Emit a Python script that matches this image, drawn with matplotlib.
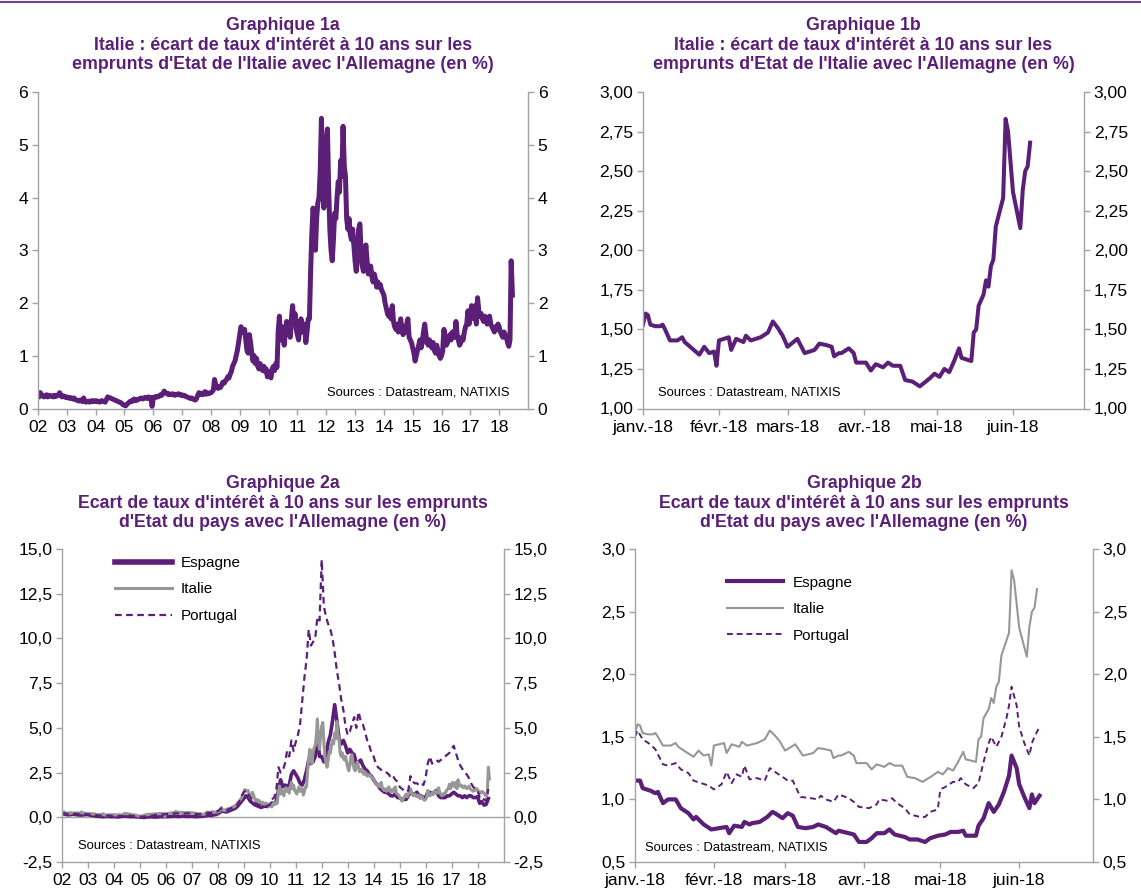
import numpy as np
import matplotlib
matplotlib.use("Agg")
import matplotlib.pyplot as plt
from matplotlib.lines import Line2D
from matplotlib.ticker import FuncFormatter

plt.rcParams["font.family"] = ["Liberation Sans", "DejaVu Sans"]

PURPLE = "#5B1F78"
GREY = "#979797"
AXIS = "#A3A3A3"

# --- long series 2002-2018 ---------------------------------------------------
# Italy - Germany 10y spread, two readings per month starting Jan 2002
italy_long = [
    0.28, 0.22, 0.30, 0.25, 0.24, 0.22, 0.23, 0.26, 0.22, 0.25, 0.24, 0.23,
    0.24, 0.22, 0.25, 0.23, 0.24, 0.26, 0.30, 0.25, 0.22, 0.24, 0.23, 0.21,  # 02
    0.22, 0.20, 0.21, 0.19, 0.20, 0.18, 0.20, 0.17, 0.16, 0.15, 0.14, 0.16,
    0.15, 0.13, 0.20, 0.14, 0.12, 0.13, 0.14, 0.12, 0.14, 0.15, 0.13, 0.14,  # 03
    0.15, 0.13, 0.14, 0.12, 0.13, 0.15, 0.14, 0.13, 0.12, 0.17, 0.22, 0.21,
    0.20, 0.19, 0.18, 0.17, 0.16, 0.15, 0.14, 0.13, 0.12, 0.11, 0.09, 0.07,  # 04
    0.06, 0.05, 0.08, 0.10, 0.12, 0.14, 0.13, 0.16, 0.18, 0.15, 0.17, 0.16,
    0.18, 0.19, 0.20, 0.18, 0.19, 0.21, 0.20, 0.19, 0.22, 0.20, 0.21, 0.04,  # 05
    0.20, 0.22, 0.21, 0.23, 0.22, 0.24, 0.26, 0.25, 0.28, 0.33, 0.30, 0.29,
    0.27, 0.28, 0.26, 0.27, 0.28, 0.26, 0.25, 0.27, 0.26, 0.28, 0.26, 0.25,  # 06
    0.26, 0.24, 0.25, 0.23, 0.22, 0.21, 0.20, 0.19, 0.20, 0.18, 0.17, 0.16,
    0.19, 0.25, 0.30, 0.27, 0.29, 0.26, 0.28, 0.32, 0.27, 0.30, 0.28, 0.29,  # 07
    0.30, 0.32, 0.35, 0.55, 0.45, 0.40, 0.38, 0.42, 0.40, 0.45, 0.50, 0.48,
    0.52, 0.55, 0.60, 0.58, 0.65, 0.70, 0.80, 0.85, 0.90, 1.00, 1.10, 1.25,  # 08
    1.40, 1.55, 1.50, 1.45, 1.50, 1.30, 1.10, 1.05, 1.40, 1.25, 1.05, 0.90,
    1.00, 0.85, 0.95, 0.80, 0.75, 0.85, 0.78, 0.72, 0.80, 0.70, 0.75, 0.60,  # 09
    0.70, 0.62, 0.58, 0.75, 0.80, 0.72, 0.85, 0.78, 1.45, 1.75, 1.30, 1.55,
    1.40, 1.20, 1.50, 1.65, 1.45, 1.55, 1.35, 1.70, 1.95, 1.60, 1.80, 1.50,  # 10
    1.40, 1.30, 1.55, 1.70, 1.45, 1.55, 1.60, 1.25, 1.45, 1.70, 1.70, 2.60,
    3.30, 3.80, 3.60, 3.00, 3.60, 3.90, 4.00, 4.50, 5.50, 4.20, 3.80, 4.60,  # 11
    5.10, 5.30, 4.20, 3.40, 3.00, 2.80, 3.20, 3.70, 3.60, 4.00, 4.30, 4.10,
    4.70, 4.40, 5.35, 4.60, 4.40, 3.60, 3.40, 3.60, 3.30, 3.20, 3.40, 3.10,  # 12
    2.80, 2.60, 2.90, 3.40, 3.50, 3.00, 2.70, 2.60, 2.90, 3.10, 2.80, 2.55,
    2.60, 2.70, 2.50, 2.40, 2.55, 2.45, 2.30, 2.40, 2.30, 2.35, 2.25, 2.20,  # 13
    2.15, 2.00, 1.90, 1.80, 1.75, 1.85, 1.70, 1.95, 1.65, 1.55, 1.50, 1.60,
    1.45, 1.55, 1.70, 1.50, 1.40, 1.55, 1.45, 1.60, 1.70, 1.35, 1.30, 1.25,  # 14
    1.15, 1.05, 0.90, 1.00, 1.10, 1.20, 1.30, 1.15, 1.25, 1.45, 1.60, 1.40,
    1.25, 1.20, 1.30, 1.20, 1.15, 1.25, 1.10, 1.05, 1.20, 1.10, 1.00, 0.95,  # 15
    1.00, 1.10, 1.50, 1.35, 1.20, 1.25, 1.35, 1.40, 1.30, 1.45, 1.40, 1.35,
    1.65, 1.40, 1.30, 1.20, 1.25, 1.35, 1.30, 1.45, 1.55, 1.60, 1.85, 1.60,  # 16
    1.75, 1.95, 1.80, 1.70, 1.95, 1.60, 2.10, 1.85, 1.75, 1.80, 1.70, 1.65,
    1.75, 1.70, 1.60, 1.65, 1.75, 1.60, 1.55, 1.50, 1.45, 1.55, 1.50, 1.60,  # 17
    1.55, 1.45, 1.40, 1.35, 1.45, 1.40, 1.35, 1.25, 1.18, 1.30, 2.80, 2.15,  # 18
]

# Spain and Portugal - Germany 10y spread, monthly from Jan 2002
spain_long = [
    0.20, 0.18, 0.15, 0.14, 0.15, 0.17, 0.16, 0.14, 0.13, 0.12, 0.14, 0.15,
    0.15, 0.12, 0.10, 0.08, 0.06, 0.05, 0.04, 0.03, 0.04, 0.05, 0.04, 0.03,
    0.04, 0.03, 0.02, 0.04, 0.05, 0.06, 0.05, 0.04, 0.03, 0.04, 0.03, 0.02,
    0.01, 0.00, -0.01, 0.01, 0.02, 0.03, 0.02, 0.01, 0.02, 0.03, 0.04, 0.03,
    0.04, 0.03, 0.05, 0.04, 0.06, 0.05, 0.04, 0.05, 0.06, 0.05, 0.04, 0.05,
    0.05, 0.04, 0.03, 0.04, 0.05, 0.06, 0.08, 0.10, 0.12, 0.10, 0.14, 0.15,
    0.20, 0.28, 0.35, 0.32, 0.30, 0.35, 0.40, 0.45, 0.50, 0.60, 0.75, 0.90,
    1.05, 1.20, 1.10, 0.90, 0.80, 0.70, 0.65, 0.60, 0.55, 0.60, 0.62, 0.60,
    0.70, 0.80, 0.75, 0.90, 1.50, 2.10, 1.70, 1.80, 1.75, 1.80, 2.40, 2.60,
    2.40, 2.20, 1.90, 1.80, 2.10, 2.60, 3.20, 3.00, 3.10, 3.40, 4.50, 3.40,
    3.40, 3.10, 3.30, 4.20, 4.60, 5.40, 6.30, 5.40, 4.40, 4.10, 4.30, 4.00,
    3.60, 3.80, 3.60, 3.50, 3.00, 3.10, 3.20, 2.90, 2.70, 2.60, 2.40, 2.30,
    2.10, 1.90, 1.80, 1.60, 1.50, 1.40, 1.40, 1.30, 1.20, 1.20, 1.30, 1.10,
    1.10, 1.00, 1.00, 1.00, 1.20, 1.40, 1.30, 1.30, 1.40, 1.20, 1.20, 1.10,
    1.10, 1.40, 1.40, 1.30, 1.40, 1.50, 1.20, 1.10, 1.10, 1.10, 1.20, 1.20,
    1.30, 1.40, 1.30, 1.20, 1.20, 1.10, 1.20, 1.10, 1.20, 1.20, 1.10, 1.10,
    1.15, 0.78, 0.87, 0.68, 0.72, 1.05,
]
portugal_long = [
    0.20, 0.22, 0.20, 0.18, 0.17, 0.18, 0.20, 0.19, 0.18, 0.17, 0.16, 0.17,
    0.16, 0.15, 0.14, 0.13, 0.12, 0.10, 0.09, 0.08, 0.09, 0.10, 0.09, 0.08,
    0.08, 0.07, 0.06, 0.07, 0.08, 0.09, 0.10, 0.09, 0.08, 0.07, 0.06, 0.05,
    0.04, 0.03, 0.04, 0.05, 0.07, 0.08, 0.10, 0.12, 0.14, 0.13, 0.15, 0.16,
    0.17, 0.18, 0.20, 0.19, 0.21, 0.22, 0.21, 0.23, 0.22, 0.21, 0.22, 0.21,
    0.20, 0.19, 0.18, 0.17, 0.18, 0.19, 0.20, 0.22, 0.25, 0.24, 0.28, 0.30,
    0.35, 0.45, 0.50, 0.45, 0.40, 0.45, 0.50, 0.55, 0.60, 0.70, 0.90, 1.20,
    1.40, 1.50, 1.30, 1.10, 0.90, 0.80, 0.75, 0.70, 0.65, 0.60, 0.60, 0.65,
    0.70, 1.00, 1.10, 1.50, 2.80, 2.50, 2.60, 3.00, 3.70, 3.40, 4.30, 3.70,
    4.20, 4.60, 5.20, 6.50, 7.80, 8.80, 10.50, 9.60, 9.80, 10.00, 11.20, 11.00,
    14.40, 11.80, 11.20, 10.80, 10.50, 10.00, 9.20, 8.20, 7.50, 6.60, 6.00, 5.10,
    4.60, 4.80, 5.20, 5.60, 5.00, 5.90, 5.40, 5.20, 4.80, 4.30, 4.00, 3.60,
    3.40, 3.00, 2.80, 2.70, 2.60, 2.50, 2.50, 2.40, 2.20, 2.30, 2.10, 2.00,
    1.70, 1.60, 1.50, 1.40, 1.50, 2.30, 2.00, 1.90, 1.90, 1.80, 1.90, 1.80,
    2.20, 3.00, 3.40, 3.00, 3.10, 3.20, 3.10, 3.20, 3.30, 3.40, 3.50, 3.60,
    3.80, 4.00, 3.60, 3.20, 2.90, 2.70, 2.50, 2.40, 2.20, 1.90, 1.70, 1.60,
    1.50, 1.12, 1.18, 0.98, 0.92, 1.58,
]

# --- 2018 daily-ish series (x = days since 1 Jan 2018) -----------------------
days_it = [0, 1, 2, 3, 5, 7, 8, 9, 11, 14, 16, 17, 20, 23, 25, 27, 29, 30, 31, 35,
           36, 38, 41, 42, 44, 48, 51, 53, 55, 57, 59, 63, 66, 70, 72, 75, 77, 78,
           80, 81, 84, 86, 87, 91, 93, 95, 98, 100, 102, 105, 107, 110, 113, 117,
           119, 121, 123, 125, 127, 129, 130, 134, 135, 136, 137, 139, 140, 141,
           142, 143, 144, 147, 148, 149, 151, 154, 155, 156, 157, 158]
italy_2018 = [1.53, 1.60, 1.59, 1.53, 1.52, 1.52, 1.53, 1.50, 1.43, 1.43, 1.45, 1.42,
              1.38, 1.34, 1.39, 1.35, 1.36, 1.27, 1.43, 1.45, 1.37, 1.44, 1.42, 1.46,
              1.43, 1.45, 1.48, 1.55, 1.51, 1.46, 1.39, 1.44, 1.35, 1.37, 1.41, 1.40,
              1.39, 1.33, 1.35, 1.35, 1.38, 1.35, 1.29, 1.29, 1.24, 1.28, 1.26, 1.29,
              1.27, 1.27, 1.18, 1.17, 1.14, 1.19, 1.22, 1.20, 1.25, 1.23, 1.30, 1.38,
              1.32, 1.30, 1.48, 1.50, 1.65, 1.72, 1.81, 1.77, 1.90, 1.94, 2.15, 2.33,
              2.83, 2.75, 2.37, 2.14, 2.38, 2.50, 2.53, 2.68]

days_es = [0, 2, 3, 6, 8, 9, 11, 13, 16, 18, 21, 23, 24, 27, 30, 33, 36, 37, 39, 42,
           43, 45, 46, 49, 52, 54, 55, 58, 60, 62, 64, 67, 70, 72, 75, 79, 80, 84,
           86, 88, 91, 93, 95, 98, 100, 102, 106, 108, 111, 114, 116, 119, 122,
           124, 127, 129, 130, 134, 135, 137, 139, 141, 143, 145, 147, 148, 150,
           151, 153, 155, 156, 157, 159]
spain_2018 = [1.15, 1.15, 1.09, 1.07, 1.05, 1.06, 0.97, 1.00, 1.00, 0.93, 0.89, 0.84,
              0.86, 0.80, 0.76, 0.77, 0.78, 0.73, 0.79, 0.78, 0.82, 0.80, 0.81, 0.82,
              0.86, 0.90, 0.89, 0.85, 0.89, 0.87, 0.78, 0.77, 0.78, 0.80, 0.78, 0.73,
              0.75, 0.73, 0.72, 0.66, 0.66, 0.69, 0.73, 0.73, 0.76, 0.72, 0.70, 0.68,
              0.68, 0.66, 0.69, 0.71, 0.72, 0.74, 0.74, 0.75, 0.71, 0.71, 0.79, 0.85,
              0.97, 0.90, 0.96, 1.06, 1.19, 1.35, 1.25, 1.12, 1.02, 0.93, 1.04, 0.97,
              1.03]

days_pt = [0, 1, 3, 6, 8, 11, 13, 16, 18, 21, 23, 26, 29, 31, 34, 36, 38, 40, 42, 43,
           45, 48, 51, 53, 55, 58, 60, 62, 65, 69, 72, 73, 75, 78, 80, 84, 86, 88,
           92, 95, 96, 99, 101, 103, 106, 108, 112, 114, 116, 119, 120, 122, 125,
           127, 128, 130, 133, 135, 137, 139, 140, 142, 144, 146, 147, 148, 150,
           151, 153, 155, 156, 157, 159]
portugal_2018 = [1.50, 1.55, 1.48, 1.44, 1.40, 1.28, 1.27, 1.29, 1.24, 1.21, 1.15, 1.13,
                 1.11, 1.08, 1.12, 1.22, 1.13, 1.20, 1.18, 1.27, 1.16, 1.17, 1.15, 1.25,
                 1.22, 1.18, 1.15, 1.15, 1.02, 1.01, 1.00, 1.03, 1.00, 0.98, 1.04, 1.01,
                 0.98, 0.94, 0.93, 0.96, 1.00, 0.99, 1.01, 0.97, 0.93, 0.88, 0.86, 0.86,
                 0.90, 0.92, 1.08, 1.10, 1.14, 1.14, 1.17, 1.12, 1.09, 1.13, 1.30, 1.45,
                 1.50, 1.42, 1.50, 1.65, 1.75, 1.90, 1.75, 1.58, 1.45, 1.35, 1.45, 1.50,
                 1.58]

# --- axis labels --------------------------------------------------------------
year_ticks = list(range(2002, 2019))
year_labels = [f"{y % 100:02d}" for y in year_ticks]
month_ticks = [0, 31, 59, 90, 120, 151]
month_labels = ["janv.-18", "févr.-18", "mars-18", "avr.-18", "mai-18", "juin-18"]

titles = [
    "Graphique 1a\nItalie : écart de taux d'intérêt à 10 ans sur les\n"
    "emprunts d'Etat de l'Italie avec l'Allemagne (en %)",
    "Graphique 1b\nItalie : écart de taux d'intérêt à 10 ans sur les\n"
    "emprunts d'Etat de l'Italie avec l'Allemagne (en %)",
    "Graphique 2a\nEcart de taux d'intérêt à 10 ans sur les emprunts\n"
    "d'Etat du pays avec l'Allemagne (en %)",
    "Graphique 2b\nEcart de taux d'intérêt à 10 ans sur les emprunts\n"
    "d'Etat du pays avec l'Allemagne (en %)",
]
source = "Sources : Datastream, NATIXIS"

t_it = 2002 + np.arange(len(italy_long)) / 24
t_es = 2002 + np.arange(len(spain_long)) / 12
t_pt = 2002 + np.arange(len(portugal_long)) / 12

W, H = 1141, 891
fig = plt.figure(figsize=(W / 100, H / 100), dpi=100)


def box(left, right, top, bottom):
    return [left / W, 1 - bottom / H, (right - left) / W, (bottom - top) / H]


def style(ax, fmt):
    for s in ("left", "right", "bottom"):
        ax.spines[s].set_color(AXIS)
        ax.spines[s].set_linewidth(1)
    ax.spines["top"].set_visible(False)
    ax.tick_params(axis="both", direction="out", length=4, color=AXIS,
                   labelsize=12.6, width=1)
    ax.tick_params(axis="y", left=True, right=True, labelleft=True,
                   labelright=True, pad=3)
    ax.tick_params(axis="x", pad=4)
    ax.yaxis.set_major_formatter(FuncFormatter(lambda v, p: fmt.format(v).replace(".", ",")))


ax1 = fig.add_axes(box(38, 528, 92, 408.5))
ax2 = fig.add_axes(box(643, 1084, 92, 408.5))
ax3 = fig.add_axes(box(62, 503.5, 549, 862))
ax4 = fig.add_axes(box(635, 1093, 549, 862))

# 1a
ax1.plot(t_it, italy_long, color=PURPLE, lw=3.6, solid_joinstyle="round")
ax1.set_xlim(2002, 2019)
ax1.set_ylim(0, 6)
ax1.set_yticks(range(0, 7))
ax1.set_xticks(year_ticks, year_labels)
style(ax1, "{:.0f}")
ax1.text(0.962, 0.052, source, transform=ax1.transAxes, ha="right", va="center", fontsize=9.4)

# 1b
ax2.plot(days_it, italy_2018, color=PURPLE, lw=2.9, solid_joinstyle="round")
ax2.set_xlim(0, 180)
ax2.set_ylim(1, 3)
ax2.set_yticks(np.arange(1, 3.01, 0.25))
ax2.set_xticks(month_ticks, month_labels)
style(ax2, "{:.2f}")
ax2.text(0.035, 0.052, source, transform=ax2.transAxes, ha="left", va="center", fontsize=9.4)

# 2a
ax3.axhline(0, color=AXIS, lw=1)
ax3.plot(t_es, spain_long, color=PURPLE, lw=2.6, label="Espagne")
ax3.plot(t_it, italy_long, color=GREY, lw=2.2, label="Italie")
ax3.plot(t_pt, portugal_long, color=PURPLE, lw=1.6, ls=(0, (3, 2)), label="Portugal")
ax3.set_xlim(2002, 2019)
ax3.set_ylim(-2.5, 15)
ax3.set_yticks(np.arange(-2.5, 15.01, 2.5))
ax3.set_xticks(year_ticks, year_labels)
style(ax3, "{:.1f}")
ax3.text(0.036, 0.054, source, transform=ax3.transAxes, ha="left", va="center", fontsize=9.4)
leg = ax3.legend(loc="upper left", bbox_to_anchor=(0.12, 0.978), frameon=False,
                 fontsize=11, handlelength=3.7, handletextpad=0.6, labelspacing=0.82,
                 borderpad=0, borderaxespad=0)
leg.get_lines()[0].set_linewidth(4)

# 2b
ax4.plot(days_es, spain_2018, color=PURPLE, lw=3.0, label="Espagne", solid_joinstyle="round")
ax4.plot(days_it, italy_2018, color=GREY, lw=1.5, label="Italie")
ax4.plot(days_pt, portugal_2018, color=PURPLE, lw=1.4, ls=(0, (3, 2)), label="Portugal")
ax4.set_xlim(0, 180)
ax4.set_ylim(0.5, 3)
ax4.set_yticks(np.arange(0.5, 3.01, 0.5))
ax4.set_xticks(month_ticks, month_labels)
style(ax4, "{:.1f}")
ax4.text(0.022, 0.045, source, transform=ax4.transAxes, ha="left", va="center", fontsize=9.4)
ax4.legend(loc="upper left", bbox_to_anchor=(0.2, 0.915), frameon=False,
           fontsize=11, handlelength=3.7, handletextpad=0.6, labelspacing=0.82,
           borderpad=0, borderaxespad=0)

# titles
for ax, title, ymid in zip((ax1, ax2, ax3, ax4), titles, (45, 45, 503, 503)):
    pos = ax.get_position()
    fig.text(pos.x0 + pos.width / 2, 1 - ymid / H, title, ha="center", va="center",
             ma="center", fontsize=12.8, fontweight="bold", color=PURPLE, linespacing=1.22)

fig.add_artist(Line2D([0, 1], [1 - 1.5 / H] * 2, transform=fig.transFigure,
                      color="#6E4290", lw=1.5))

fig.savefig("out.png", dpi=100)
